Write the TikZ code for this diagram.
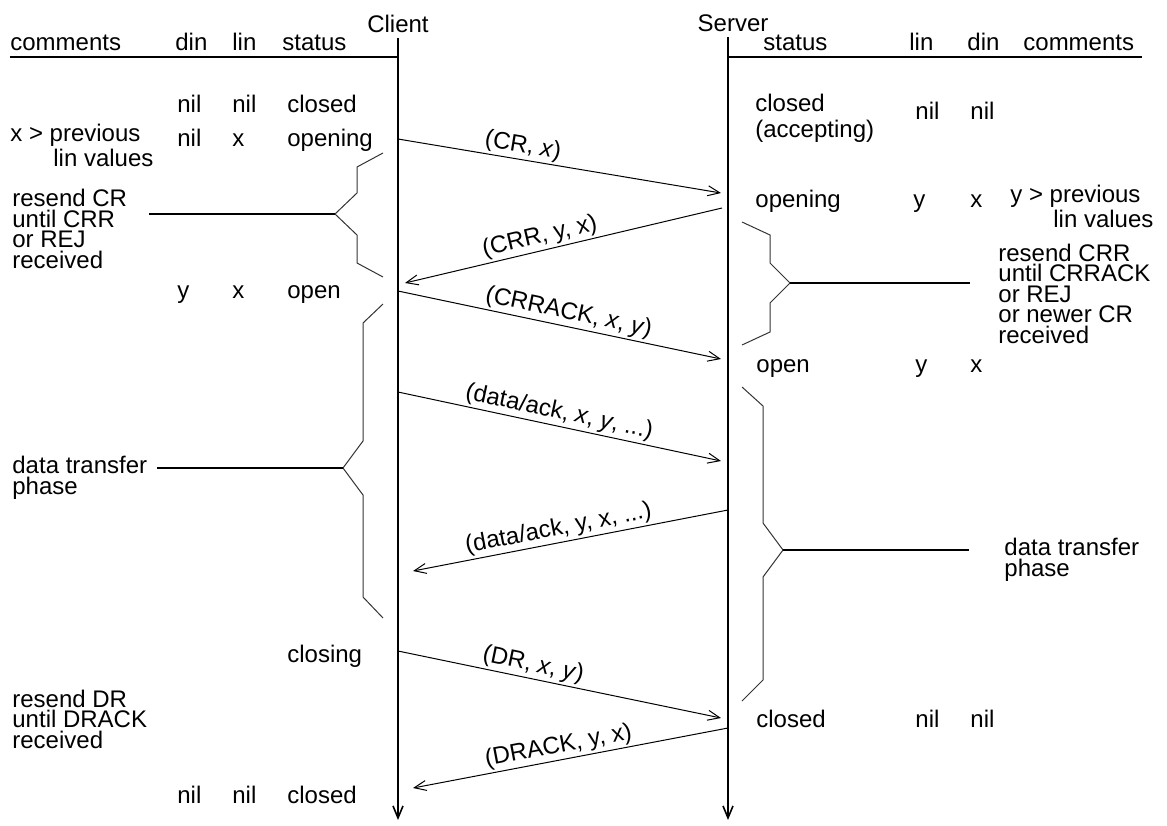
\documentclass[tikz,border=0pt]{standalone}
\usepackage{fontspec}
\setmainfont{Liberation Sans}
\usetikzlibrary{arrows.meta}
\begin{document}
\begin{tikzpicture}[x=0.5pt,y=-0.5pt,
  >={Straight Barb[length=6pt,width=5pt]},
  txt/.style={inner sep=0pt, anchor=base west, align=left, font=\fontsize{12}{10.2}\selectfont},
  head/.style={inner sep=0pt, anchor=base, font=\fontsize{12}{10.2}\selectfont},
  msg/.style={line width=0.5pt},
  mlbl/.style={sloped, above, inner sep=1pt, font=\fontsize{12}{10.2}\selectfont},
  life/.style={line width=0.8pt, ->},
  rule/.style={line width=0.7pt},
  bracket/.style={line width=0.5pt, black!80},
  leader/.style={line width=0.9pt}]
\useasboundingbox (0,0) rectangle (1167,825);

% headings
\node[head] (client) at (398,32) {Client};
\node[head] (server) at (733,31) {Server};
\node[txt] (hcomL) at (10,50) {comments};
\node[txt] (hdinL) at (175,50) {din};
\node[txt] (hlinL) at (232,50) {lin};
\node[txt] (hstL) at (282,50) {status};
\node[txt] (hstR) at (763,50) {status};
\node[txt] (hlinR) at (909,50) {lin};
\node[txt] (hdinR) at (967,50) {din};
\node[txt] (hcomR) at (1023,50) {comments};

% lifelines
\coordinate (ctop) at (398,38);
\coordinate (cbot) at (398,820);
\coordinate (stop) at (728,37);
\coordinate (sbot) at (728,820);
\draw[life] (ctop) -- (cbot);
\draw[life] (stop) -- (sbot);
\coordinate (rl0) at (10,57);
\coordinate (rl1) at (398,57);
\coordinate (rr0) at (728,57);
\coordinate (rr1) at (1142,57);
\draw[rule] (rl0) -- (rl1);
\draw[rule] (rr0) -- (rr1);

% client side rows (multi-line texts are placed by their last line)
\node[txt] (c1d) at (177,112) {nil};
\node[txt] (c1l) at (232,112) {nil};
\node[txt] (c1s) at (287,112) {closed};
\node[txt] (c2c) at (10,166) {x > previous\\\hspace*{21.5pt}lin values};
\node[txt] (c2d) at (177,146) {nil};
\node[txt] (c2l) at (232,146) {x};
\node[txt] (c2s) at (287,146) {opening};
\node[txt] (c3c) at (12,268) {resend CR\\until CRR\\or REJ\\received};
\node[txt] (c4d) at (177,298) {y};
\node[txt] (c4l) at (232,298) {x};
\node[txt] (c4s) at (287,298) {open};
\node[txt] (c5c) at (12,494) {data transfer\\phase};
\node[txt] (c6s) at (287,662) {closing};
\node[txt] (c7c) at (12,748) {resend DR\\until DRACK\\received};
\node[txt] (c8d) at (177,803) {nil};
\node[txt] (c8l) at (232,803) {nil};
\node[txt] (c8s) at (287,803) {closed};

% server side rows
\node[txt] (s1s) at (755,137) {closed\\[2.4pt](accepting)};
\node[txt] (s1l) at (915,119) {nil};
\node[txt] (s1d) at (970,119) {nil};
\node[txt] (s2s) at (755,207) {opening};
\node[txt] (s2l) at (913,207) {y};
\node[txt] (s2d) at (970,207) {x};
\node[txt] (s2c) at (1010,227) {y > previous\\\hspace*{21.5pt}lin values};
\node[txt] (s3c) at (998,343) {resend CRR\\until CRRACK\\or REJ\\or newer CR\\received};
\node[txt] (s4s) at (756,372) {open};
\node[txt] (s4l) at (915,372) {y};
\node[txt] (s4d) at (970,372) {x};
\node[txt] (s5c) at (1004,576) {data transfer\\phase};
\node[txt] (s6s) at (756,727) {closed};
\node[txt] (s6l) at (915,727) {nil};
\node[txt] (s6d) at (970,727) {nil};

% brackets, client side
\coordinate (b1) at (335,214);
\draw[bracket] (383,153) -- (357,167) -- (357,193) -- (b1) -- (357,235) -- (357,263) -- (383,277);
\coordinate (b1e) at (149,214);
\draw[leader] (b1e) -- (b1);
\coordinate (b2) at (343,468);
\draw[bracket] (383,304) -- (363,323) -- (363,441) -- (b2) -- (363,495) -- (363,597) -- (383,618);
\coordinate (b2e) at (157,468);
\draw[leader] (b2e) -- (b2);

% brackets, server side
\coordinate (b3) at (790,283);
\draw[bracket] (742,222) -- (770,235) -- (770,263) -- (b3) -- (770,303) -- (770,332) -- (742,345);
\coordinate (b3e) at (970,283);
\draw[leader] (b3) -- (b3e);
\coordinate (b4) at (783,550);
\draw[bracket] (742,387) -- (763,406) -- (763,523) -- (b4) -- (763,577) -- (763,680) -- (742,701);
\coordinate (b4e) at (969,550);
\draw[leader] (b4) -- (b4e);

% messages
\coordinate (m1a) at (398,139);  \coordinate (m1b) at (721,193);
\coordinate (m2a) at (405,283);  \coordinate (m2b) at (722,208);
\coordinate (m3a) at (398,291);  \coordinate (m3b) at (721,359);
\coordinate (m4a) at (398,392);  \coordinate (m4b) at (721,461);
\coordinate (m5a) at (413,571);  \coordinate (m5b) at (728,510);
\coordinate (m6a) at (398,651);  \coordinate (m6b) at (721,718);
\coordinate (m7a) at (413,788);  \coordinate (m7b) at (728,728);

\draw[msg,->] (m1a) -- node[mlbl,pos=0.38] (l1) {(CR, \textit{x})} (m1b);
\draw[msg,<-] (m2a) -- node[mlbl,pos=0.435] (l2) {(CRR, y, x)} (m2b);
\draw[msg,->] (m3a) -- node[mlbl,pos=0.52] (l3) {(CRRACK, \textit{x}, \textit{y})} (m3b);
\draw[msg,->] (m4a) -- node[mlbl,pos=0.49] (l4) {(data/ack, \textit{x}, \textit{y}, ...)} (m4b);
\draw[msg,<-] (m5a) -- node[mlbl,pos=0.47] (l5) {(data/ack, y, x, ...)} (m5b);
\draw[msg,->] (m6a) -- node[mlbl,pos=0.41] (l6) {(DR, \textit{x}, \textit{y})} (m6b);
\draw[msg,<-] (m7a) -- node[mlbl,pos=0.47] (l7) {(DRACK, y, x)} (m7b);
\end{tikzpicture}
\end{document}
